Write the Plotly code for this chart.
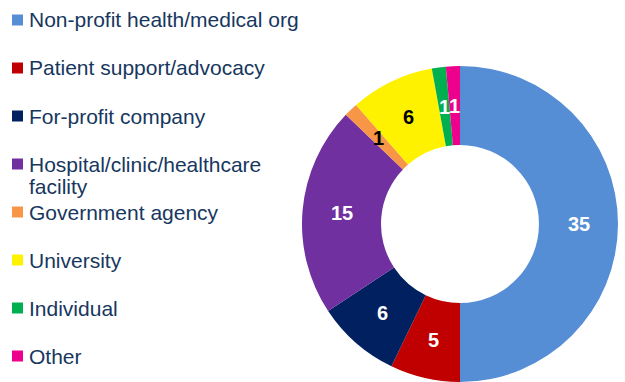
import math
import plotly.graph_objects as go

# Organisation types and counts
categories = [
    "Non-profit health/medical org",
    "Patient support/advocacy",
    "For-profit company",
    "Hospital/clinic/healthcare<br>facility",
    "Government agency",
    "University",
    "Individual",
    "Other",
]
counts = [35, 5, 6, 15, 1, 6, 1, 1]
slice_colors = ["#558ED5", "#C00000", "#002060", "#7030A0",
                "#F79646", "#FFF200", "#00B050", "#EC008C"]
value_text_colors = ["white", "white", "white", "white",
                     "black", "black", "white", "white"]

W, H = 625, 382
LEGEND_COLOR = "#17375E"
FONT = "Liberation Sans, Arial, sans-serif"

# Donut geometry in pixels
CX, CY, R_OUT = 460, 224, 158
HOLE = 0.5

fig = go.Figure()
fig.add_trace(go.Pie(
    labels=[c.replace("<br>", " ") for c in categories],
    values=counts,
    sort=False,
    direction="clockwise",
    rotation=0,
    hole=HOLE,
    marker=dict(colors=slice_colors, line=dict(width=0)),
    textinfo="none",
    domain=dict(x=[(CX - R_OUT) / W, (CX + R_OUT) / W],
                y=[(H - CY - R_OUT) / H, (H - CY + R_OUT) / H]),
    showlegend=False,
    hoverinfo="label+value",
))

annotations, shapes = [], []

# Value labels at the middle of the ring, at each slice's mid-angle
total = sum(counts)
r_mid = R_OUT * (1 + HOLE) / 2
cum = 0
for v, tc in zip(counts, value_text_colors):
    ang = 2 * math.pi * (cum + v / 2) / total
    cum += v
    px = CX + r_mid * math.sin(ang)
    py = CY - r_mid * math.cos(ang)
    annotations.append(dict(
        xref="paper", yref="paper", x=px / W, y=1 - py / H,
        xanchor="center", yanchor="middle", text=str(v), showarrow=False,
        font=dict(family=FONT, size=20, color=tc, weight="bold"),
    ))

# Legend drawn as squares + text at a fixed row pitch
row0, pitch, line_gap = 20, 48, 22
for i, (name, col) in enumerate(zip(categories, slice_colors)):
    cy = row0 + pitch * i
    shapes.append(dict(
        type="rect", xref="paper", yref="paper",
        x0=12 / W, x1=23 / W, y0=1 - (cy + 5.5) / H, y1=1 - (cy - 5.5) / H,
        fillcolor=col, line=dict(width=0),
    ))
    for j, line in enumerate(name.split("<br>")):
        annotations.append(dict(
            xref="paper", yref="paper", x=27 / W, y=1 - (cy + line_gap * j) / H,
            xanchor="left", yanchor="middle", align="left",
            text=line, showarrow=False,
            font=dict(family=FONT, size=21, color=LEGEND_COLOR),
        ))

fig.update_layout(
    width=W, height=H,
    margin=dict(l=0, r=0, t=0, b=0),
    paper_bgcolor="white",
    plot_bgcolor="white",
    shapes=shapes,
    annotations=annotations,
)

fig.write_html("out.html")
